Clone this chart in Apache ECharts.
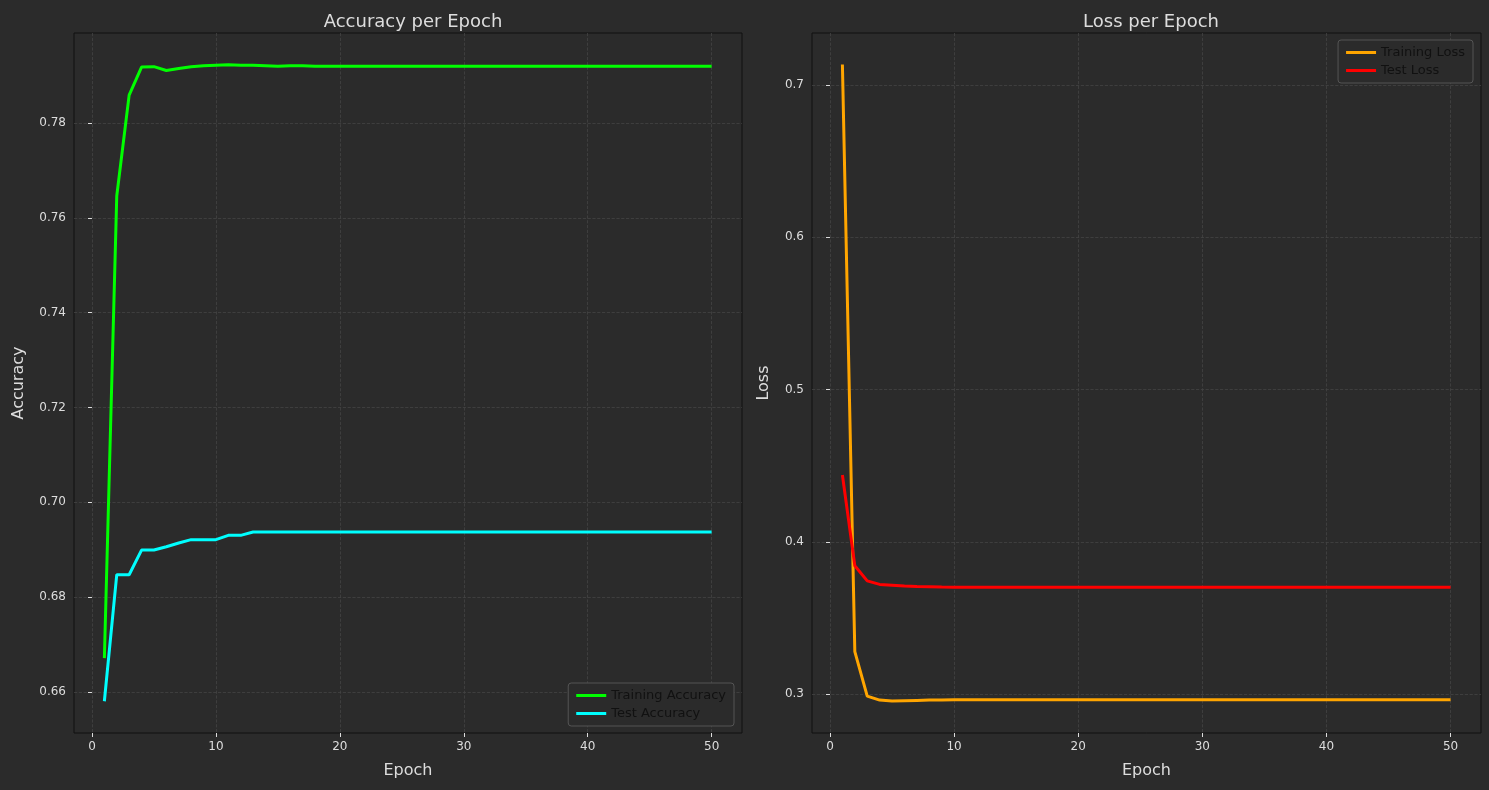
<!DOCTYPE html>
<html>
<head>
<meta charset="UTF-8">
<script src="https://cdn.jsdelivr.net/npm/echarts@6/dist/echarts.min.js"></script>
<style>html,body{margin:0;background:#2b2b2b;}</style>
</head>
<body>
<div id="main" style="width:1489px;height:790px;"></div>
<script>
// 数据
var epochs = [];
for (var i = 1; i <= 50; i++) epochs.push(i);
var trainAcc = [0.6671,0.7646,0.7859,0.7918,0.7919,0.7911,0.7915,0.7919,0.7921,0.7922,
  0.7923,0.7922,0.7922,0.7921,0.7920,0.7921,0.7921,0.7920,0.7920,0.7920,
  0.7920,0.7920,0.7920,0.7920,0.7920,0.7920,0.7920,0.7920,0.7920,0.7920,
  0.7920,0.7920,0.7920,0.7920,0.7920,0.7920,0.7920,0.7920,0.7920,0.7920,
  0.7920,0.7920,0.7920,0.7920,0.7920,0.7920,0.7920,0.7920,0.7920,0.7920];
var testAcc = [0.6580,0.6847,0.6847,0.6899,0.6899,0.6906,0.6914,0.6921,0.6921,0.6921,
  0.6930,0.6930,0.6937,0.6937,0.6937,0.6937,0.6937,0.6937,0.6937,0.6937,
  0.6937,0.6937,0.6937,0.6937,0.6937,0.6937,0.6937,0.6937,0.6937,0.6937,
  0.6937,0.6937,0.6937,0.6937,0.6937,0.6937,0.6937,0.6937,0.6937,0.6937,
  0.6937,0.6937,0.6937,0.6937,0.6937,0.6937,0.6937,0.6937,0.6937,0.6937];
var trainLoss = [0.7135,0.3279,0.2986,0.2960,0.2954,0.2956,0.2958,0.2960,0.2961,0.2962,
  0.2962,0.2962,0.2962,0.2962,0.2962,0.2962,0.2962,0.2962,0.2962,0.2962,
  0.2962,0.2962,0.2962,0.2962,0.2962,0.2962,0.2962,0.2962,0.2962,0.2962,
  0.2962,0.2962,0.2962,0.2962,0.2962,0.2962,0.2962,0.2962,0.2962,0.2962,
  0.2962,0.2962,0.2962,0.2962,0.2962,0.2962,0.2962,0.2962,0.2962,0.2962];
var testLoss = [0.4439,0.3843,0.3743,0.3720,0.3715,0.3710,0.3707,0.3705,0.3703,0.3702,
  0.3701,0.3701,0.3701,0.3701,0.3701,0.3701,0.3701,0.3701,0.3701,0.3701,
  0.3701,0.3701,0.3701,0.3701,0.3701,0.3701,0.3701,0.3701,0.3701,0.3701,
  0.3701,0.3701,0.3701,0.3701,0.3701,0.3701,0.3701,0.3701,0.3701,0.3701,
  0.3701,0.3701,0.3701,0.3701,0.3701,0.3701,0.3701,0.3701,0.3701,0.3701];
var xTicks = [0, 10, 20, 30, 40, 50];
var accTicks = [0.66, 0.68, 0.70, 0.72, 0.74, 0.76, 0.78];
var lossTicks = [0.3, 0.4, 0.5, 0.6, 0.7];

function pairs(ys) { return epochs.map(function (e, i) { return [e, ys[i]]; }); }

var font = 'DejaVu Sans';
var gridLine = { show: true, lineStyle: { color: '#444', type: 'dashed', width: 0.8 } };
function xAxis(idx) {
  return {
    gridIndex: idx, type: 'value', min: -1.45, max: 52.45,
    name: 'Epoch', nameLocation: 'middle', nameGap: 30,
    nameTextStyle: { color: '#ddd', fontSize: 16, fontFamily: font },
    axisLine: { show: false },
    axisTick: { show: true, customValues: xTicks, lineStyle: { color: '#ddd' }, length: 4 },
    axisLabel: { customValues: xTicks, color: '#ddd', fontSize: 12, fontFamily: font, margin: 8 },
    splitLine: gridLine
  };
}
function yAxis(idx, name, ticks, min, max, dec) {
  return {
    gridIndex: idx, type: 'value', min: min, max: max,
    name: name, nameLocation: 'middle', nameGap: dec === 2 ? 47 : 40,
    nameTextStyle: { color: '#ddd', fontSize: 16, fontFamily: font },
    axisLine: { show: false },
    axisTick: { show: true, customValues: ticks, lineStyle: { color: '#ddd' }, length: 4 },
    axisLabel: { customValues: ticks, color: '#ddd', fontSize: 12, fontFamily: font,
      formatter: function (v) { return v.toFixed(dec); } },
    splitLine: gridLine
  };
}
function line(name, data, color, xi) {
  return { name: name, type: 'line', xAxisIndex: xi, yAxisIndex: xi, data: pairs(data),
    showSymbol: false, lineStyle: { color: color, width: 3 }, itemStyle: { color: color } };
}
var legendBase = {
  orient: 'vertical', backgroundColor: '#2b2b2b', borderColor: '#555', borderWidth: 1,
  borderRadius: 3, padding: [6, 8], itemGap: 5, itemWidth: 30, itemHeight: 3, icon: 'rect',
  textStyle: { color: '#111', fontSize: 13, fontFamily: font }
};

var chart = echarts.init(document.getElementById('main'));
chart.setOption({
  backgroundColor: '#2b2b2b',
  animation: false,
  title: [
    { text: 'Accuracy per Epoch', left: 408, top: 8, textAlign: 'center',
      textStyle: { color: '#ddd', fontSize: 18, fontWeight: 'normal', fontFamily: font } },
    { text: 'Loss per Epoch', left: 1146, top: 8, textAlign: 'center',
      textStyle: { color: '#ddd', fontSize: 18, fontWeight: 'normal', fontFamily: font } }
  ],
  grid: [
    { left: 74, right: 747, top: 33, bottom: 57, show: true, borderColor: '#111', borderWidth: 1, backgroundColor: '#2b2b2b' },
    { left: 812, right: 8, top: 33, bottom: 57, show: true, borderColor: '#111', borderWidth: 1, backgroundColor: '#2b2b2b' }
  ],
  xAxis: [xAxis(0), xAxis(1)],
  yAxis: [yAxis(0, 'Accuracy', accTicks, 0.6513, 0.799, 2), yAxis(1, 'Loss', lossTicks, 0.2744, 0.7342, 1)],
  legend: [
    Object.assign({}, legendBase, { data: ['Training Accuracy', 'Test Accuracy'], right: 755, bottom: 64 }),
    Object.assign({}, legendBase, { data: ['Training Loss', 'Test Loss'], right: 16, top: 40 })
  ],
  series: [
    line('Training Accuracy', trainAcc, '#00ff00', 0),
    line('Test Accuracy', testAcc, '#00ffff', 0),
    line('Training Loss', trainLoss, '#ffa500', 1),
    line('Test Loss', testLoss, '#ff0000', 1)
  ]
});
</script>
</body>
</html>
